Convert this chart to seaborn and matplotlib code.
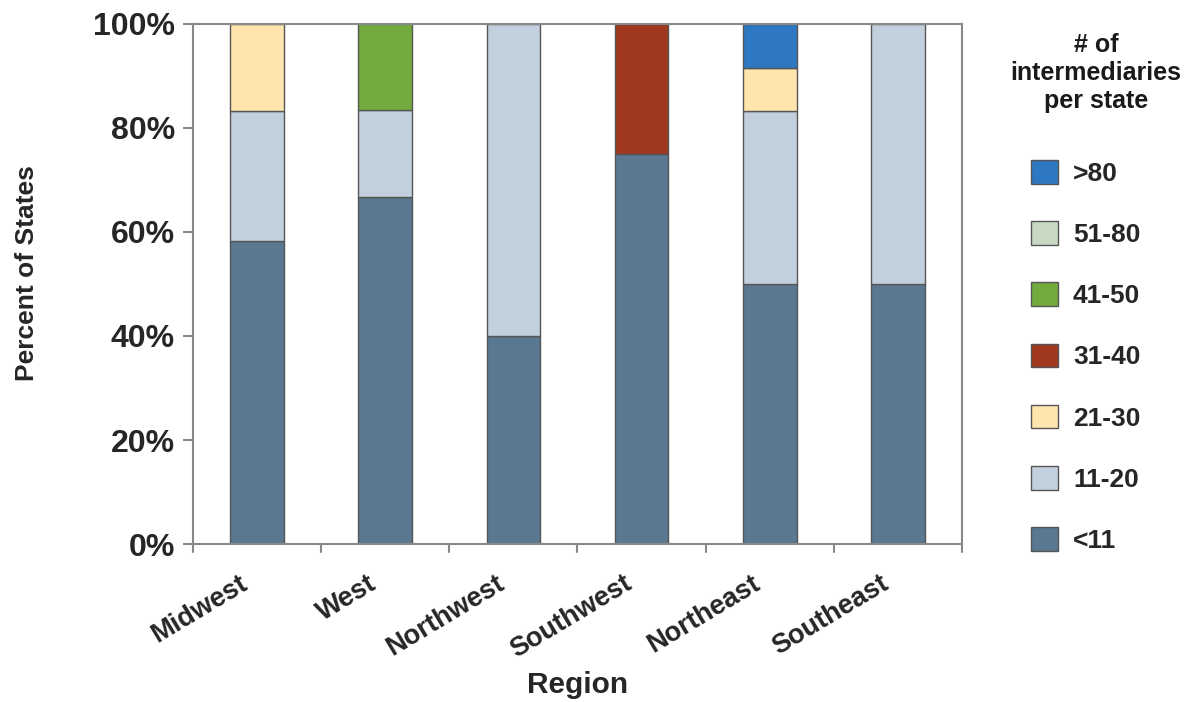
import matplotlib
matplotlib.use("Agg")
import matplotlib.pyplot as plt
import matplotlib.transforms as mtransforms
import numpy as np
import seaborn as sns
from matplotlib.patches import Patch
from matplotlib.ticker import FuncFormatter

# ====== DATA ======
REGIONS = ["Midwest", "West", "Northwest", "Southwest", "Northeast", "Southeast"]
CATEGORIES = ["<11", "11-20", "21-30", "31-40", "41-50", "51-80", ">80"]
PCT_LT11 = [58.3, 66.7, 40.0, 75.0, 50.0, 50.0]
PCT_11_20 = [25.0, 16.7, 60.0, 0.0, 33.3, 50.0]
PCT_21_30 = [16.7, 0.0, 0.0, 0.0, 8.3, 0.0]
PCT_31_40 = [0.0, 0.0, 0.0, 25.0, 0.0, 0.0]
PCT_41_50 = [0.0, 16.7, 0.0, 0.0, 0.0, 0.0]
PCT_51_80 = [0.0, 0.0, 0.0, 0.0, 0.0, 0.0]
PCT_GT80 = [0.0, 0.0, 0.0, 0.0, 8.4, 0.0]
COLORS = ["#5a7891", "#c2cfdc", "#fde5ad", "#a0381f", "#72aa3e", "#c8d9c3", "#2e78c2"]
LEGEND_TITLE = "# of\nintermediaries\nper state"
# ==================

series = [PCT_LT11, PCT_11_20, PCT_21_30, PCT_31_40, PCT_41_50, PCT_51_80, PCT_GT80]

sns.set_style("white")
plt.rcParams["font.family"] = ["Liberation Sans", "DejaVu Sans"]
plt.rcParams["font.weight"] = "bold"

fig = plt.figure(figsize=(11.96, 7.02), dpi=100)
ax = fig.add_axes([0.1614, 0.225, 0.6429, 0.741])

bottom = np.zeros(len(REGIONS))
for vals, color in zip(series, COLORS):
    n_before = len(ax.patches)
    sns.barplot(x=REGIONS, y=vals, bottom=bottom, color=color, width=0.42,
                edgecolor="#555555", linewidth=1.0, saturation=1, ax=ax)
    # hide empty segments so they don't leave stray lines
    for p in ax.patches[n_before:]:
        if p.get_height() == 0:
            p.set_visible(False)
    bottom = bottom + np.array(vals)

ax.set_ylim(0, 100)
ax.set_xlim(-0.5, len(REGIONS) - 0.5)
ax.set_yticks(range(0, 101, 20))
ax.yaxis.set_major_formatter(FuncFormatter(lambda v, _: f"{int(v)}%"))
ax.set_xticks(np.arange(len(REGIONS)))
ax.set_xticklabels(REGIONS, rotation=31, ha="right", rotation_mode="anchor",
                   fontsize=19.5, fontweight="bold")
ax.tick_params(axis="x", length=0, pad=19)
shift = mtransforms.ScaledTranslation(-18 / 100, 0, fig.dpi_scale_trans)
for lbl in ax.get_xticklabels():
    lbl.set_transform(lbl.get_transform() + shift)
for t in np.arange(-0.5, len(REGIONS), 1.0):
    ax.plot([t, t], [0, -1.5], color="#888888", lw=1.5, clip_on=False)
ax.tick_params(axis="y", left=True, length=7, width=1.5, color="#888888",
               labelsize=23, pad=6)
for lbl in ax.get_yticklabels():
    lbl.set_fontweight("bold")

for s in ax.spines.values():
    s.set_color("#888888")
    s.set_linewidth(1.5)

ax.set_xlabel("Region", fontsize=21.5, fontweight="bold")
ax.xaxis.set_label_coords(0.5, -0.245)
ax.set_ylabel("Percent of States", fontsize=19, fontweight="bold")
ax.yaxis.set_label_coords(-0.20, 0.52)

# legend title drawn separately so it can sit centred above the entries
fig.text(1096 / 1196, 1 - 33 / 702, LEGEND_TITLE, ha="center", va="top",
         multialignment="center", fontsize=18, fontweight="bold",
         linespacing=1.22, color="#1a1a1a")

handles = [Patch(facecolor=c, edgecolor="#555555", label=l)
           for c, l in zip(COLORS, CATEGORIES)][::-1]
fig.legend(handles=handles, loc="upper left",
           bbox_to_anchor=(1031 / 1196, 1 - 160 / 702), frameon=False,
           borderpad=0, borderaxespad=0,
           prop={"size": 19, "weight": "bold"}, labelspacing=1.34,
           handlelength=1.02, handleheight=1.0, handletextpad=0.57)

fig.savefig("out.png", dpi=100)
